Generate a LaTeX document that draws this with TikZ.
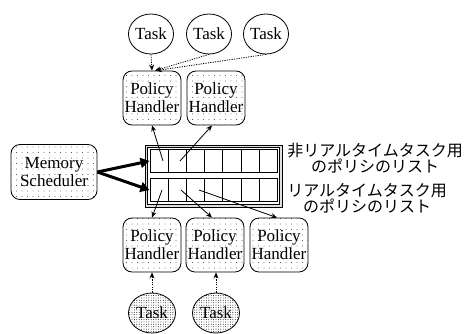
\documentclass[tikz,border=0pt]{standalone}
\usepackage{fontspec}
\setmainfont{Liberation Serif}
\newfontfamily\jp{Noto Sans CJK JP}
\usetikzlibrary{patterns.meta,arrows.meta,shapes.geometric}
\begin{document}
\begin{tikzpicture}[x=1pt,y=-1pt,line width=0.8pt,
  txt/.style={font=\fontsize{17}{18}\selectfont},
  ph/.style={txt,draw,rounded corners=9pt,minimum width=58pt,minimum height=54pt,inner sep=0pt,align=center,
    pattern={Dots[distance=5.5pt,radius=0.45pt]}},
  ttop/.style={txt,draw,ellipse,minimum width=45pt,minimum height=40pt,inner sep=0pt,fill=white},
  tbot/.style={txt,draw,ellipse,minimum width=47pt,minimum height=40pt,inner sep=0pt,
    pattern={Dots[distance=2.4pt,radius=0.45pt]}},
  darr/.style={dash pattern=on 1.2pt off 1.2pt,-{Stealth[length=6pt,width=5pt]}},
  sarr/.style={-{Stealth[length=6pt,width=5pt]}},
  barr/.style={line width=3pt,-{Triangle[length=9pt,width=10pt]}},
  row/.style={draw,line width=1pt,minimum width=127pt,minimum height=23pt,inner sep=0pt,fill=white},
  jlab/.style={font=\jp\fontsize{16}{14.5}\selectfont,align=center,anchor=west,inner sep=0pt}
]
\useasboundingbox (0,0) rectangle (469,334);

% top tasks
\node[ttop] (t1) at (151,34) {Task};
\node[ttop] (t2) at (209,34) {Task};
\node[ttop] (t3) at (266,34) {Task};

% top policy handlers
\node[ph] (p1) at (152,98) {Policy\\Handler};
\node[ph] (p2) at (216,98) {Policy\\Handler};

% memory scheduler
\node[ph,minimum width=86pt,minimum height=55pt] (ms) at (54,172) {Memory\\Scheduler};

% list frame
\draw[fill=gray!25,line width=0.7pt] (145,145) rectangle (282,207);
\draw[fill=white,line width=0.5pt] (147.5,147.5) rectangle (279.5,204.5);
\node[row] (r1) at (213.5,161) {};
\node[row] (r2) at (213.5,190) {};
\foreach \x in {168.5,186.6,204.7,222.9,241,259}{
  \draw[line width=1pt] (\x,149.5) -- (\x,172.5);
  \draw[line width=1pt] (\x,178.5) -- (\x,201.5);
}
\coordinate (a1) at (163,161);
\coordinate (a2) at (180,161);
\coordinate (b1) at (162,190);
\coordinate (b2) at (181,190);
\coordinate (b3) at (199,190);

% labels
\node[jlab] (l1) at (287,158) {非リアルタイムタスク用\\のポリシのリスト};
\node[jlab] (l2) at (287,198) {リアルタイムタスク用\\のポリシのリスト};

% bottom policy handlers
\node[ph] (q1) at (152,245) {Policy\\Handler};
\node[ph] (q2) at (215,245) {Policy\\Handler};
\node[ph] (q3) at (279,245) {Policy\\Handler};

% bottom tasks
\node[tbot] (u1) at (152,313) {Task};
\node[tbot] (u2) at (216,313) {Task};

% arrows
\draw[darr] (t1.south) -- (p1.north);
\draw[darr] (t2.south) -- ([xshift=3pt]p1.north);
\draw[darr] (t3.south) -- ([xshift=4pt]p1.north);

\draw[sarr] (a1) -- (p1.south);
\draw[sarr] (a2) -- ([xshift=-4pt]p2.south);
\draw[sarr] (b1) -- (q1.north);
\draw[sarr] (b2) -- ([xshift=-3pt]q2.north);
\draw[sarr] (b3) -- ([xshift=-2pt]q3.north);

\draw[barr] (ms.east) -- (r1.west);
\draw[barr] (ms.east) -- (r2.west);

\draw[darr] (u1.north) -- (q1.south);
\draw[darr] (u2.north) -- ([xshift=1pt]q2.south);
\end{tikzpicture}
\end{document}
